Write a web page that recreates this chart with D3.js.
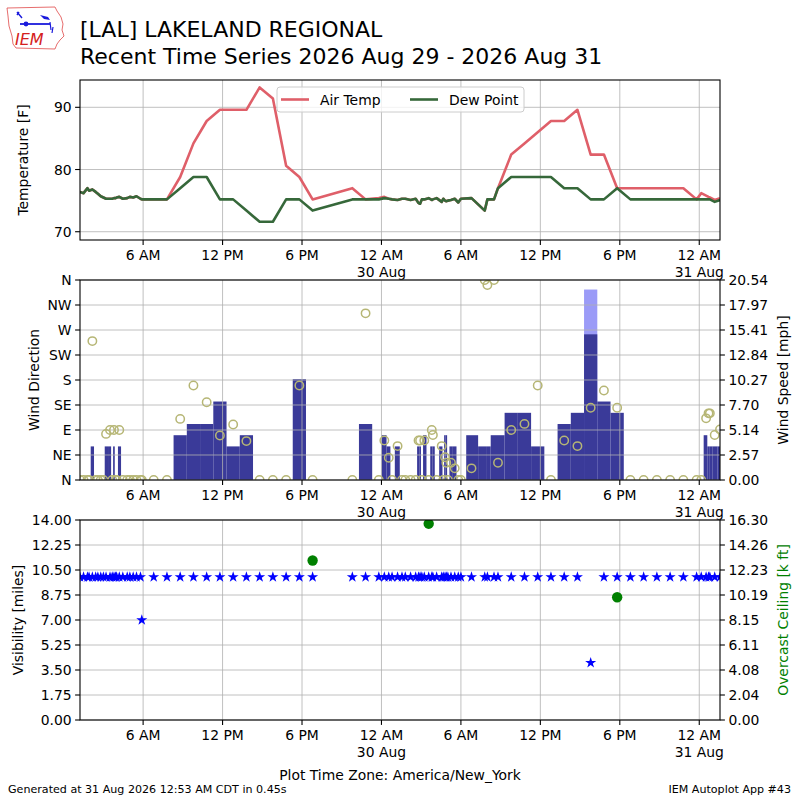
<!DOCTYPE html>
<html><head><meta charset="utf-8">
<script src="https://cdn.jsdelivr.net/npm/d3@7"></script>
<style>body{margin:0;background:#fff}svg{display:block}text{font-family:"DejaVu Sans",sans-serif}</style>
</head><body><svg id="c" width="800" height="800"></svg>
<script>
// ---------------- DATA ----------------
const timeDomain = ["29 01:14", "31 01:34"];
const obsTime = [
 "29 01:14","29 01:30","29 01:48","29 01:55","29 02:10","29 02:25","29 02:35","29 02:48","29 03:00","29 03:12","29 03:30","29 03:40","29 03:48","29 03:55","29 04:00","29 04:12","29 04:28","29 04:48","29 05:00","29 05:15","29 05:30","29 05:48","29 05:54",
 "29 06:48","29 07:48","29 08:48","29 09:48","29 10:48","29 11:48","29 12:48","29 13:48","29 14:48","29 15:48","29 16:48","29 17:48","29 18:48","29 21:48","29 22:48","29 23:48",
 "30 00:13","30 00:33","30 00:48","30 01:13","30 01:33","30 01:48","30 02:12","30 02:35","30 02:48","30 02:55","30 03:03","30 03:14","30 03:34","30 03:48","30 03:53","30 04:10","30 04:33","30 04:40","30 04:48","30 04:54","30 05:01","30 05:15","30 05:32","30 05:48","30 06:00","30 06:48","30 07:48","30 08:00","30 08:30","30 08:48",
 "30 09:48","30 10:48","30 11:48","30 12:48","30 13:48","30 14:48","30 15:48","30 16:48","30 17:48","30 18:48","30 19:48","30 20:48","30 21:48","30 22:48","30 23:48",
 "31 00:09","31 00:31","31 00:42","31 00:48","31 01:10","31 01:34"
];
const airTemp = [
 76.4,76.2,77.0,76.6,76.8,76.4,76.1,75.7,75.5,75.3,75.3,75.3,75.4,75.4,75.5,75.6,75.3,75.4,75.6,75.5,75.7,75.3,75.2,
 75.2,75.2,78.8,84.2,87.8,89.6,89.6,89.6,93.2,91.4,80.6,78.8,75.2,77.0,75.2,75.4,
 75.6,75.3,75.2,75.1,75.3,75.3,75.1,75.3,74.6,74.5,75.2,75.2,75.4,75.1,75.2,75.4,74.8,75.3,75.0,74.9,75.0,75.1,75.3,74.7,75.3,75.4,73.4,75.2,75.2,77.0,
 82.4,84.2,86.0,87.8,87.8,89.6,82.4,82.4,77.0,77.0,77.0,77.0,77.0,77.0,75.2,
 76.2,75.8,75.6,75.5,75.1,75.4
];
const dewPoint = [
 76.4,76.2,77.0,76.6,76.8,76.4,76.1,75.7,75.5,75.3,75.3,75.3,75.4,75.4,75.5,75.6,75.3,75.4,75.6,75.5,75.7,75.3,75.2,
 75.2,75.2,77.0,78.8,78.8,75.2,75.2,73.4,71.6,71.6,75.2,75.2,73.4,75.2,75.2,75.2,
 75.4,75.3,75.2,75.1,75.3,75.3,75.1,75.3,74.6,74.5,75.2,75.2,75.4,75.1,75.2,75.4,74.8,75.3,75.0,74.9,75.0,75.1,75.3,74.7,75.3,75.4,73.4,75.2,75.2,77.0,
 78.8,78.8,78.8,78.8,77.0,77.0,75.2,75.2,77.0,75.2,75.2,75.2,75.2,75.2,75.2,
 75.2,75.2,75.2,75.2,74.8,75.1
];
const windSpeed = [
 0,0,0,0,3.45,0,0,0,0,3.45,3.45,0,3.45,0,0,3.45,0,0,0,0,0,0,0,
 0,0,4.60,5.75,5.75,8.06,3.45,4.60,0,0,0,10.36,0,0,5.75,0,
 4.60,3.45,0,3.45,0,0,0,0,3.45,3.45,0,4.60,0,3.45,3.45,0,3.45,0,4.60,4.60,0,3.45,3.45,0,0,4.60,3.45,3.45,4.60,4.60,
 6.90,6.90,3.45,0,5.75,6.90,14.96,8.06,6.90,0,0,0,0,0,0,
 0,4.60,3.45,3.45,3.45,3.45
];
const windDir = [
 0,0,0,0,250,0,0,0,0,83,90,0,90,0,0,90,0,0,0,0,0,0,0,
 0,0,110,170,140,80,100,70,0,0,0,170,0,0,300,0,
 71,40,0,61,0,0,0,0,71,71,0,71,0,90,81,0,61,0,41,31,0,31,21,0,0,21,360,351,360,31,
 90,101,170,0,71,61,130,161,130,0,0,0,0,0,0,
 0,111,120,120,81,91
];
const visibility = [
 10,10,10,10,10,10,10,10,10,10,10,10,10,10,10,10,10,10,10,10,10,10,7,
 10,10,10,10,10,10,10,10,10,10,10,10,10,10,10,10,
 10,10,10,10,10,10,10,10,10,10,10,10,10,10,10,10,10,10,10,10,10,10,10,10,10,10,10,10,10,10,
 10,10,10,10,10,10,4,10,10,10,10,10,10,10,10,
 10,10,10,10,10,10
];
const gustTime = ["30 15:48"];
const gustValue = [19.56];
const ceilingTime = ["29 18:48", "30 03:34", "30 17:48"];
const ceilingValue = [13.0, 16.0, 10.0];

const tempTicks = [70, 80, 90];
const dirTicks = [0, 45, 90, 135, 180, 225, 270, 315, 360];
const dirLabels = ["N", "NE", "E", "SE", "S", "SW", "W", "NW", "N"];
const speedTickLabels = ["0.00","2.57","5.14","7.70","10.27","12.84","15.41","17.97","20.54"];
const visTickLabels = ["0.00","1.75","3.50","5.25","7.00","8.75","10.50","12.25","14.00"];
const ceilTickLabels = ["0.00","2.04","4.08","6.11","8.15","10.19","12.23","14.26","16.30"];

// ---------------- SETUP ----------------
const parse = s => d3.utcParse("%Y-%m-%d %H:%M")("2026-08-" + s);
const svg = d3.select("#c");
const FS = 13.9, GRID = "#b0b0b0";
const L = 80, R = 720;
const P1 = [80, 240], P2 = [280, 480], P3 = [520, 720];

const x = d3.scaleUtc().domain(timeDomain.map(parse)).range([L, R]);
const yT = d3.scaleLinear().domain([68.67, 94.39]).range([P1[1], P1[0]]);
const yDir = d3.scaleLinear().domain([0, 360]).range([P2[1], P2[0]]);
const ySpd = d3.scaleLinear().domain([0, 20.54]).range([P2[1], P2[0]]);
const yVis = d3.scaleLinear().domain([0, 14]).range([P3[1], P3[0]]);
const yCeil = d3.scaleLinear().domain([0, 16.30]).range([P3[1], P3[0]]);

const obs = obsTime.map((t, i) => ({
  t: parse(t), tmp: airTemp[i], dwp: dewPoint[i], spd: windSpeed[i],
  dir: windDir[i], vis: visibility[i]
}));
const xTicks = d3.utcHour.every(6).range(x.domain()[0], x.domain()[1]);

const defs = svg.append("defs");
[["c1", P1], ["c2", P2], ["c3", P3]].forEach(([id, p]) => {
  defs.append("clipPath").attr("id", id).append("rect")
    .attr("x", L).attr("y", p[0]).attr("width", R - L).attr("height", p[1] - p[0]);
});

function grid(g, p, yvals) {
  xTicks.forEach(t => g.append("line").attr("x1", x(t)).attr("x2", x(t))
    .attr("y1", p[0]).attr("y2", p[1]).attr("stroke", GRID).attr("stroke-width", 0.8));
  yvals.forEach(v => g.append("line").attr("x1", L).attr("x2", R)
    .attr("y1", v).attr("y2", v).attr("stroke", GRID).attr("stroke-width", 0.8));
}
function frame(p) {
  svg.append("rect").attr("x", L).attr("y", p[0]).attr("width", R - L).attr("height", p[1] - p[0])
    .attr("fill", "none").attr("stroke", "#000").attr("stroke-width", 1.1);
  xTicks.forEach(t => {
    const xx = x(t);
    svg.append("line").attr("x1", xx).attr("x2", xx).attr("y1", p[1]).attr("y2", p[1] + 4.9)
      .attr("stroke", "#000").attr("stroke-width", 1.1);
    const h = t.getUTCHours();
    const lab = (h % 12 || 12) + (h < 12 ? " AM" : " PM");
    svg.append("text").attr("x", xx).attr("y", p[1] + 20).attr("text-anchor", "middle")
      .attr("font-size", FS).text(lab);
    if (h === 0) svg.append("text").attr("x", xx).attr("y", p[1] + 36.5).attr("text-anchor", "middle")
      .attr("font-size", FS).text(d3.utcFormat("%d %b")(t));
  });
}
function yTicks(side, ys, labels) {
  ys.forEach((y, i) => {
    const x0 = side === "l" ? L : R, d = side === "l" ? -4.9 : 4.9;
    svg.append("line").attr("x1", x0).attr("x2", x0 + d).attr("y1", y).attr("y2", y)
      .attr("stroke", "#000").attr("stroke-width", 1.1);
    svg.append("text").attr("x", side === "l" ? L - 8.4 : R + 8.4).attr("y", y + 5)
      .attr("text-anchor", side === "l" ? "end" : "start").attr("font-size", FS).text(labels[i]);
  });
}
function yLabel(txt, xb, yc, color) {
  svg.append("text").attr("transform", `translate(${xb},${yc}) rotate(-90)`)
    .attr("text-anchor", "middle").attr("font-size", FS).attr("fill", color || "#000").text(txt);
}

// ---------------- TITLE / LOGO ----------------
const logo = svg.append("g");
logo.append("path").attr("d", "M7,8 L55,7 L57,11 L61,17 L63,24 L62,30 L64,36 L60,40 L57,44 L55,49 L16,48 L13,44 L12,36 L9,26 L8,16 Z")
  .attr("fill", "none").attr("stroke", "#e04848").attr("stroke-width", 0.8);
logo.append("line").attr("x1", 20).attr("x2", 50).attr("y1", 24).attr("y2", 24).attr("stroke", "#1a1adc").attr("stroke-width", 1.8);
logo.append("circle").attr("cx", 26).attr("cy", 24).attr("r", 2.4).attr("fill", "#1a1adc");
logo.append("path").attr("d", "M17,12 L22,18 M19,12 L17,15").attr("stroke", "#1a1adc").attr("stroke-width", 1.4).attr("fill", "none");
logo.append("path").attr("d", "M40,15 L48,17 L50,20 L44,19 Z").attr("fill", "#1a1adc");
logo.append("path").attr("d", "M50,22 L51,30 M53,27 L52,33").attr("stroke", "#1a1adc").attr("stroke-width", 1.2);
logo.append("text").attr("x", 15).attr("y", 45).attr("font-family", "DejaVu Serif, serif")
  .attr("font-style", "italic").attr("font-size", 16).attr("fill", "#d42020").text("IEM");

svg.append("text").attr("x", 80).attr("y", 37).attr("font-size", 22).text("[LAL] LAKELAND REGIONAL");
svg.append("text").attr("x", 80).attr("y", 64).attr("font-size", 22)
  .text("Recent Time Series 2026 Aug 29 - 2026 Aug 31");

// ---------------- PANEL 1: temperature ----------------
const g1 = svg.append("g");
grid(g1, P1, tempTicks.map(yT));
const c1 = svg.append("g").attr("clip-path", "url(#c1)");
const lineT = d3.line().x(d => x(d.t)).y(d => yT(d.tmp));
const lineD = d3.line().x(d => x(d.t)).y(d => yT(d.dwp));
c1.append("path").attr("d", lineT(obs)).attr("fill", "none").attr("stroke", "#df5f69")
  .attr("stroke-width", 2.6).attr("stroke-linejoin", "round");
c1.append("path").attr("d", lineD(obs)).attr("fill", "none").attr("stroke", "#36683a")
  .attr("stroke-width", 2.6).attr("stroke-linejoin", "round");
const lg = svg.append("g");
lg.append("rect").attr("x", 277).attr("y", 87).attr("width", 247).attr("height", 25).attr("rx", 3)
  .attr("fill", "#fff").attr("fill-opacity", 0.8).attr("stroke", "#cccccc").attr("stroke-width", 1);
lg.append("line").attr("x1", 281).attr("x2", 309).attr("y1", 99.5).attr("y2", 99.5)
  .attr("stroke", "#df5f69").attr("stroke-width", 2.6);
lg.append("text").attr("x", 320).attr("y", 104.5).attr("font-size", FS).text("Air Temp");
lg.append("line").attr("x1", 410).attr("x2", 438).attr("y1", 99.5).attr("y2", 99.5)
  .attr("stroke", "#36683a").attr("stroke-width", 2.6);
lg.append("text").attr("x", 449).attr("y", 104.5).attr("font-size", FS).text("Dew Point");
frame(P1);
yTicks("l", tempTicks.map(yT), tempTicks.map(String));
yLabel("Temperature [F]", 28, 160);

// ---------------- PANEL 2: wind ----------------
const c2 = svg.append("g").attr("clip-path", "url(#c2)");
const xs = obs.map(d => x(d.t));
function barExtent(i) {
  const n = xs.length;
  const a = i > 0 ? (xs[i - 1] + xs[i]) / 2 : xs[i] - (xs[i + 1] - xs[i]) / 2;
  const b = i < n - 1 ? (xs[i] + xs[i + 1]) / 2 : xs[i] + (xs[i] - xs[i - 1]) / 2;
  return [a, b];
}
gustTime.forEach((gt, k) => {
  const tt = parse(gt).getTime();
  const i = obs.findIndex(d => d.t.getTime() === tt);
  const [a, b] = barExtent(i);
  c2.append("rect").attr("x", a).attr("width", b - a).attr("y", ySpd(gustValue[k]))
    .attr("height", ySpd(0) - ySpd(gustValue[k])).attr("fill", "#9b9bf7");
});
obs.forEach((d, i) => {
  if (d.spd <= 0) return;
  const [a, b] = barExtent(i);
  c2.append("rect").attr("x", a).attr("width", b - a).attr("y", ySpd(d.spd))
    .attr("height", ySpd(0) - ySpd(d.spd)).attr("fill", "#3a3a99");
});
const g2 = svg.append("g");
grid(g2, P2, dirTicks.map(yDir));
const c2b = svg.append("g").attr("clip-path", "url(#c2)");
obs.forEach(d => {
  c2b.append("circle").attr("cx", x(d.t)).attr("cy", yDir(d.dir)).attr("r", 4.2)
    .attr("fill", "none").attr("stroke", "#b6b675").attr("stroke-width", 1.5);
});
frame(P2);
yTicks("l", dirTicks.map(yDir), dirLabels);
yTicks("r", speedTickLabels.map((s, i) => ySpd(i * 20.54 / 8)), speedTickLabels);
yLabel("Wind Direction", 39, 380);
yLabel("Wind Speed [mph]", 788, 380);

// ---------------- PANEL 3: visibility / ceiling ----------------
const g3 = svg.append("g");
grid(g3, P3, visTickLabels.map((s, i) => yVis(i * 1.75)));
const c3 = svg.append("g").attr("clip-path", "url(#c3)");
const star = d3.symbol().type(d3.symbolStar).size(38);
obs.forEach(d => {
  c3.append("path").attr("d", star()).attr("transform", `translate(${x(d.t)},${yVis(d.vis)})`)
    .attr("fill", "#0000ff");
});
ceilingTime.forEach((ct, i) => {
  c3.append("circle").attr("cx", x(parse(ct))).attr("cy", yCeil(ceilingValue[i])).attr("r", 5.2)
    .attr("fill", "#008000");
});
frame(P3);
yTicks("l", visTickLabels.map((s, i) => yVis(i * 1.75)), visTickLabels);
yTicks("r", ceilTickLabels.map((s, i) => yCeil(i * 16.30 / 8)), ceilTickLabels);
yLabel("Visibility [miles]", 23, 620);
yLabel("Overcast Ceiling [k ft]", 788, 620, "#008000");

// ---------------- FOOTER ----------------
svg.append("text").attr("x", 400).attr("y", 780).attr("text-anchor", "middle").attr("font-size", FS)
  .text("Plot Time Zone: America/New_York");
svg.append("text").attr("x", 8).attr("y", 793).attr("font-size", 11.1)
  .text("Generated at 31 Aug 2026 12:53 AM CDT in 0.45s");
svg.append("text").attr("x", 791).attr("y", 793).attr("text-anchor", "end").attr("font-size", 11.1)
  .text("IEM Autoplot App #43");
</script></body></html>
